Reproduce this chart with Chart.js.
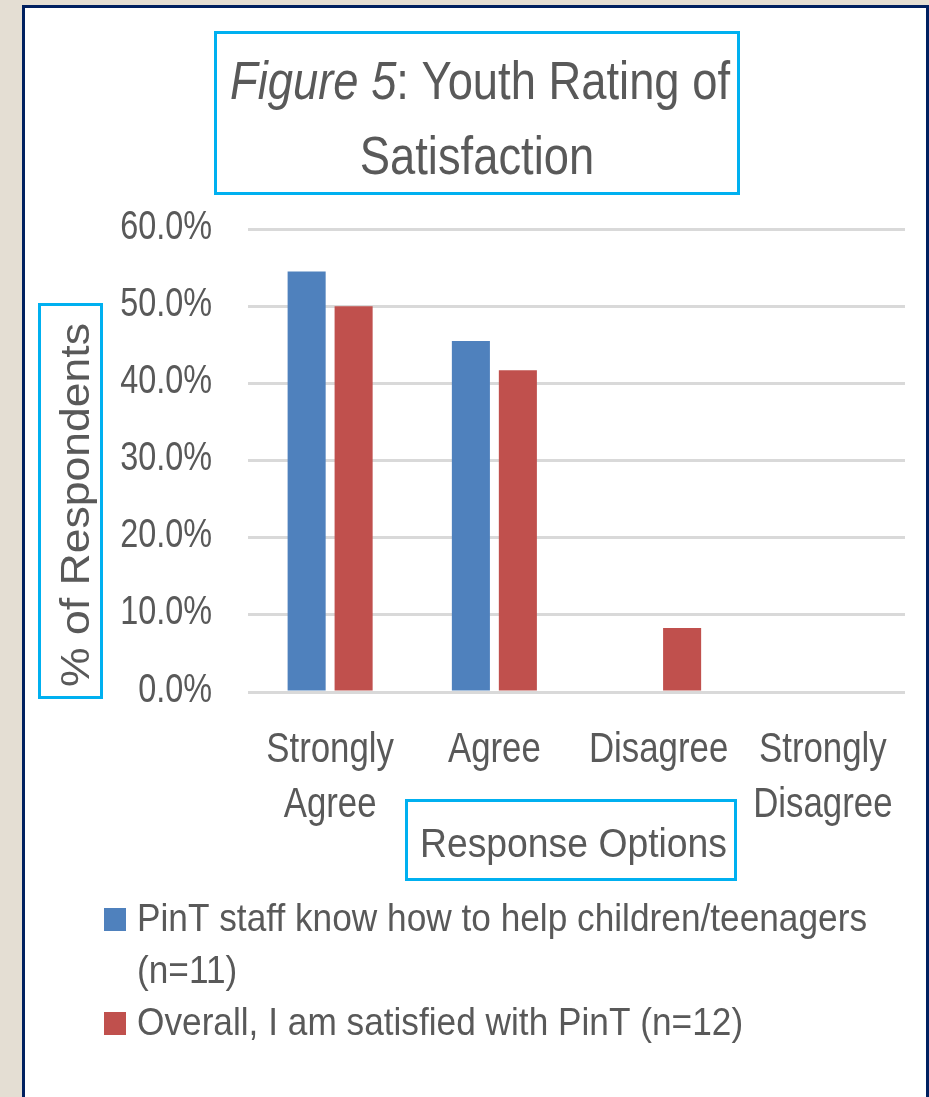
<!DOCTYPE html>
<html>
<head>
<meta charset="utf-8">
<script src="https://cdn.jsdelivr.net/npm/chart.js@4.4.0/dist/chart.umd.min.js"></script>
<style>
  html, body { margin: 0; padding: 0; background: #E4DED3; width: 929px; height: 1097px; overflow: hidden; }
  #panel { position: absolute; left: 22px; top: 5px; width: 901px; height: 1200px; background: #fff;
           border-left: 3px solid #002060; border-top: 3px solid #002060; border-right: 3px solid #002060; }
  #c { position: absolute; left: 0; top: 0; }
</style>
</head>
<body>
<div id="panel"></div>
<canvas id="c" width="929" height="1097"></canvas>
<script>
// ---- data ----
const categories = [['Strongly', 'Agree'], ['Agree'], ['Disagree'], ['Strongly', 'Disagree']];
const seriesNames = ['PinT staff know how to help children/teenagers (n=11)', 'Overall, I am satisfied with PinT (n=12)'];
const staffKnowHow = [54.5, 45.5, 0, 0];
const overallSatisfied = [50.0, 41.7, 8.3, 0];
const yTicksMax = 60;
const yTickStep = 10;
const titleItalic = 'Figure 5';
const titleRest = ': Youth Rating of';
const titleLine2 = 'Satisfaction';
const yAxisTitle = '% of Respondents';
const xAxisTitle = 'Response Options';

const FONT = "'Liberation Sans', Arial, sans-serif";
const TEXT = '#595959';
const BOX = '#00B0F0';
const NARROW = 0.81;

function drawScaled(ctx, text, x, y, sx) {
  ctx.save(); ctx.translate(x, y); ctx.scale(sx, 1); ctx.fillText(text, 0, 0); ctx.restore();
}

const decor = {
  id: 'decor',
  afterDraw(chart) {
    const ctx = chart.ctx;
    ctx.save();
    ctx.fillStyle = TEXT;
    ctx.textBaseline = 'alphabetic';

    // Y tick labels (positions from the library's y scale)
    const ys = chart.scales.y;
    ctx.font = "40px " + FONT;
    ctx.textAlign = 'right';
    ys.ticks.forEach(t => {
      const py = ys.getPixelForValue(t.value);
      drawScaled(ctx, t.label, 212, py + 9.5, NARROW);
    });

    // X tick labels (positions from the library's x scale)
    const xs = chart.scales.x;
    ctx.font = "43px " + FONT;
    ctx.textAlign = 'center';
    xs.ticks.forEach((t, i) => {
      const px = xs.getPixelForTick(i);
      const lines = Array.isArray(t.label) ? t.label : [t.label];
      lines.forEach((ln, j) => drawScaled(ctx, ln, px, chart.chartArea.bottom + 70 + j * 55, NARROW));
    });

    ctx.textAlign = 'left';
    // Title
    ctx.font = "italic 53px " + FONT;
    const w1 = ctx.measureText(titleItalic).width;
    ctx.font = "53px " + FONT;
    const w2 = ctx.measureText(titleRest).width;
    const sx = 500 / (w1 + w2);
    ctx.font = "italic 53px " + FONT;
    drawScaled(ctx, titleItalic, 230, 99, sx);
    ctx.font = "53px " + FONT;
    drawScaled(ctx, titleRest, 230 + w1 * sx, 99, sx);
    const w3 = ctx.measureText(titleLine2).width;
    drawScaled(ctx, titleLine2, 477 - w3 * sx / 2, 174, sx);

    // Y axis title (rotated)
    ctx.font = "41px " + FONT;
    const wy = ctx.measureText(yAxisTitle).width;
    const sy = 364 / wy;
    ctx.save();
    ctx.translate(89, 505);
    ctx.rotate(-Math.PI / 2);
    ctx.scale(sy, 1);
    ctx.fillText(yAxisTitle, -wy / 2, 0);
    ctx.restore();

    // X axis title
    ctx.font = "41px " + FONT;
    const wx = ctx.measureText(xAxisTitle).width;
    const sxx = 307 / wx;
    drawScaled(ctx, xAxisTitle, 573.5 - wx * sxx / 2, 857, sxx);

    // Boxes
    ctx.strokeStyle = BOX;
    ctx.lineWidth = 3;
    ctx.strokeRect(215.5, 32.5, 523, 161);
    ctx.strokeRect(39.5, 304.5, 62, 393);
    ctx.strokeRect(406.5, 800.5, 329, 79);

    // Legend (custom, wrapping)
    ctx.font = "39px " + FONT;
    const ds = chart.data.datasets;
    const scaleRef = ctx.measureText('PinT staff know how to help children/teenagers').width;
    const sl = 730 / scaleRef;
    const maxW = 780;
    let y = 931;
    ds.forEach((d) => {
      const words = d.label.split(' ');
      const lines = [];
      let cur = '';
      words.forEach(w => {
        const test = cur ? cur + ' ' + w : w;
        if (ctx.measureText(test).width * sl > maxW && cur) { lines.push(cur); cur = w; }
        else cur = test;
      });
      if (cur) lines.push(cur);
      ctx.fillStyle = d.backgroundColor;
      ctx.fillRect(104, y - 23, 22, 23);
      ctx.fillStyle = TEXT;
      lines.forEach((ln, i) => drawScaled(ctx, ln, 137, y + i * 52, sl));
      y += lines.length * 52;
    });
    ctx.restore();
  }
};

new Chart(document.getElementById('c'), {
  type: 'bar',
  data: {
    labels: categories,
    datasets: [
      { label: seriesNames[0], data: staffKnowHow, backgroundColor: '#4F81BD' },
      { label: seriesNames[1], data: overallSatisfied, backgroundColor: '#C0504D' }
    ]
  },
  options: {
    responsive: false,
    devicePixelRatio: 1,
    animation: false,
    events: [],
    categoryPercentage: 0.572,
    barPercentage: 0.81,
    layout: { padding: { top: 229, left: 0, right: 24, bottom: 0 } },
    plugins: { legend: { display: false }, title: { display: false }, tooltip: { enabled: false } },
    scales: {
      x: {
        grid: { display: false },
        border: { display: false },
        ticks: { color: 'rgba(0,0,0,0)', font: { family: FONT, size: 10 }, maxRotation: 0, autoSkip: false },
        afterFit: (s) => { s.height = 1097 - 692; s.paddingLeft = 0; s.paddingRight = 0; }
      },
      y: {
        min: 0, max: yTicksMax,
        grid: { color: '#D9D9D9', lineWidth: 3, drawTicks: false },
        border: { display: false },
        ticks: { stepSize: yTickStep, color: 'rgba(0,0,0,0)', font: { family: FONT, size: 10 },
                 callback: (v) => v.toFixed(1) + '%' },
        afterFit: (s) => { s.width = 248; s.paddingTop = 0; s.paddingBottom = 0; }
      }
    }
  },
  plugins: [decor]
});
</script>
</body>
</html>
